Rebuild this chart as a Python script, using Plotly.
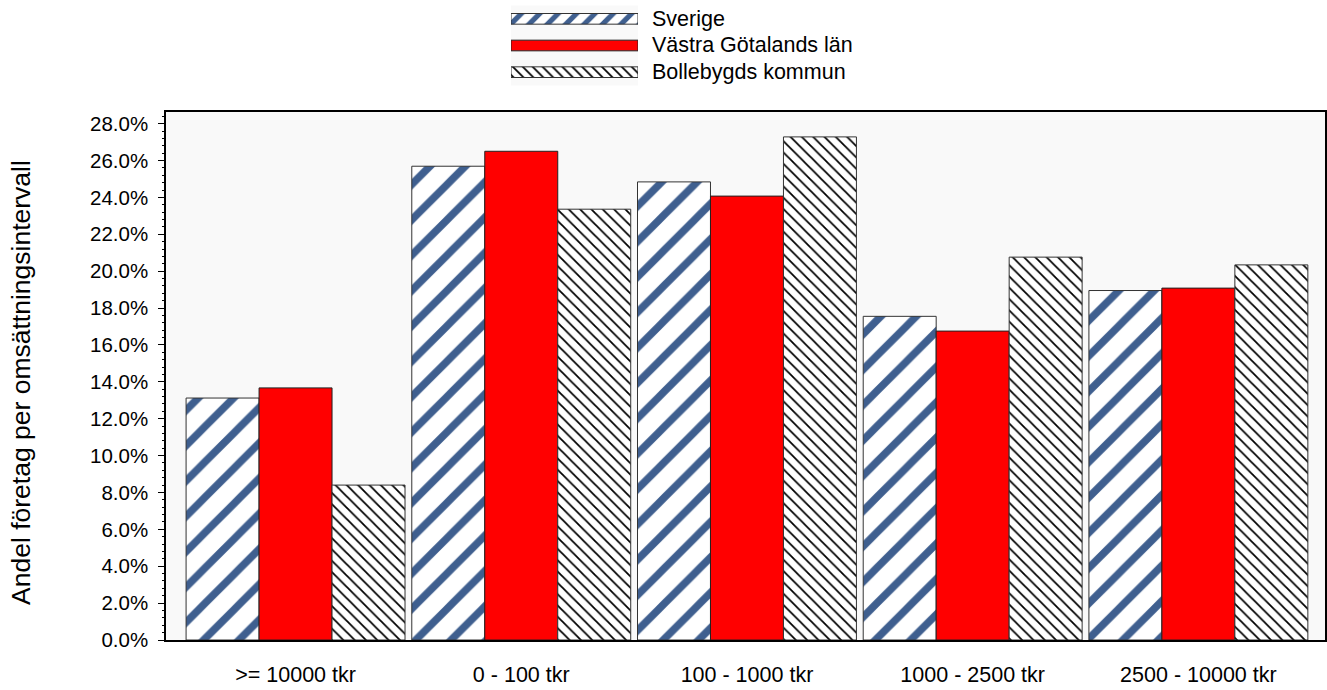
import plotly.graph_objects as go

categories = [">= 10000 tkr", "0 - 100 tkr", "100 - 1000 tkr", "1000 - 2500 tkr", "2500 - 10000 tkr"]
series_names = ["Sverige", "Västra Götalands län", "Bollebygds kommun"]
sverige = [13.12, 25.69, 24.84, 17.55, 18.95]
vastra_gotaland = [13.67, 26.50, 24.07, 16.75, 19.08]
bollebygd = [8.40, 23.36, 27.28, 20.76, 20.34]
y_ticks = [0, 2, 4, 6, 8, 10, 12, 14, 16, 18, 20, 22, 24, 26, 28]
y_tick_labels = [f"{v:.1f}%" for v in y_ticks]
y_title = "Andel företag per omsättningsintervall"

FONT = "Arial, Liberation Sans, sans-serif"
FS = 20
W, H = 1327, 690
ML, MR, MT, MB = 166, 2, 0, 50
PW, PH = W - ML - MR, H - MT - MB

def px_x(x):
    return (x - ML) / PW

def px_y(y):
    return (H - MB - y) / PH

styles = [
    dict(color="white", line=dict(color="#333333", width=1),
         pattern=dict(shape="/", fgcolor="#3f5f8f", bgcolor="white", fgopacity=1,
                      size=25, solidity=0.3)),
    dict(color="#ff0000", line=dict(color="#222222", width=1)),
    dict(color="white", line=dict(color="#333333", width=1),
         pattern=dict(shape="\\", fgcolor="#000000", bgcolor="white", fgopacity=1,
                      size=8, solidity=0.22)),
]
legend_styles = [
    dict(color="white", line=dict(color="#333333", width=1),
         pattern=dict(shape="/", fgcolor="#3f5f8f", bgcolor="white", fgopacity=1,
                      size=13, solidity=0.4)),
    dict(color="#ff0000", line=dict(color="#222222", width=1)),
    dict(color="white", line=dict(color="#333333", width=1),
         pattern=dict(shape="\\", fgcolor="#000000", bgcolor="white", fgopacity=1,
                      size=7, solidity=0.25)),
]

fig = go.Figure()
for name, vals, st in zip(series_names, [sverige, vastra_gotaland, bollebygd], styles):
    fig.add_trace(go.Bar(x=categories, y=vals, name=name, marker=st,
                         showlegend=False, hoverinfo="x+y+name"))

# custom legend swatches (wide bars like the original)
for i, (name, st) in enumerate(zip(series_names, legend_styles)):
    fig.add_trace(go.Bar(x=[1], y=[name], orientation="h", marker=st, width=0.4,
                         xaxis="x2", yaxis="y2", showlegend=False, hoverinfo="skip"))
    fig.add_annotation(x=px_x(650), y=name, xref="paper", yref="y2",
                       text=name, showarrow=False, xanchor="left", yanchor="middle",
                       font=dict(family=FONT, size=21.5, color="black"))

fig.add_annotation(x=px_x(21), y=px_y(383), xref="paper", yref="paper",
                   text=y_title, textangle=-90, showarrow=False,
                   xanchor="center", yanchor="middle",
                   font=dict(family=FONT, size=26.5, color="black"))

plot_top = 112
fig.update_layout(
    width=W, height=H,
    margin=dict(l=ML, r=MR, t=MT, b=MB),
    paper_bgcolor="white",
    plot_bgcolor="#f9f9f9",
    barmode="group",
    bargap=0.03,
    bargroupgap=0,
    font=dict(family=FONT, size=FS, color="black"),
    xaxis=dict(
        domain=[0, 1],
        range=[-0.574, 4.561],
        showline=True, linecolor="black", linewidth=1.5, mirror=True,
        ticks="", showgrid=False, zeroline=False,
        tickfont=dict(family=FONT, size=21.5, color="black"),
        ticklabelstandoff=14,
    ),
    yaxis=dict(
        domain=[0, px_y(plot_top)],
        range=[0, 28.63],
        tickmode="array",
        tickvals=y_ticks,
        ticktext=y_tick_labels,
        showline=True, linecolor="black", linewidth=1.5, mirror=True,
        ticks="outside", ticklen=6, tickcolor="black", tickwidth=1,
        minor=dict(dtick=0.4, ticks="outside", ticklen=2, tickcolor="black",
                   tickwidth=1, showgrid=False),
        showgrid=False, zeroline=False,
        tickfont=dict(family=FONT, size=20.5, color="black"),
        ticklabelstandoff=6,
    ),
    xaxis2=dict(domain=[px_x(511), px_x(638)], range=[0, 1], anchor="y2",
                visible=False, fixedrange=True),
    yaxis2=dict(domain=[px_y(85.5), px_y(5.5)], anchor="x2", type="category",
                categoryorder="array", categoryarray=series_names,
                range=[2.5, -0.5], visible=False, fixedrange=True),
)

fig.write_html("out.html", config={"displayModeBar": False},
               post_script="document.body.style.margin='0';")
